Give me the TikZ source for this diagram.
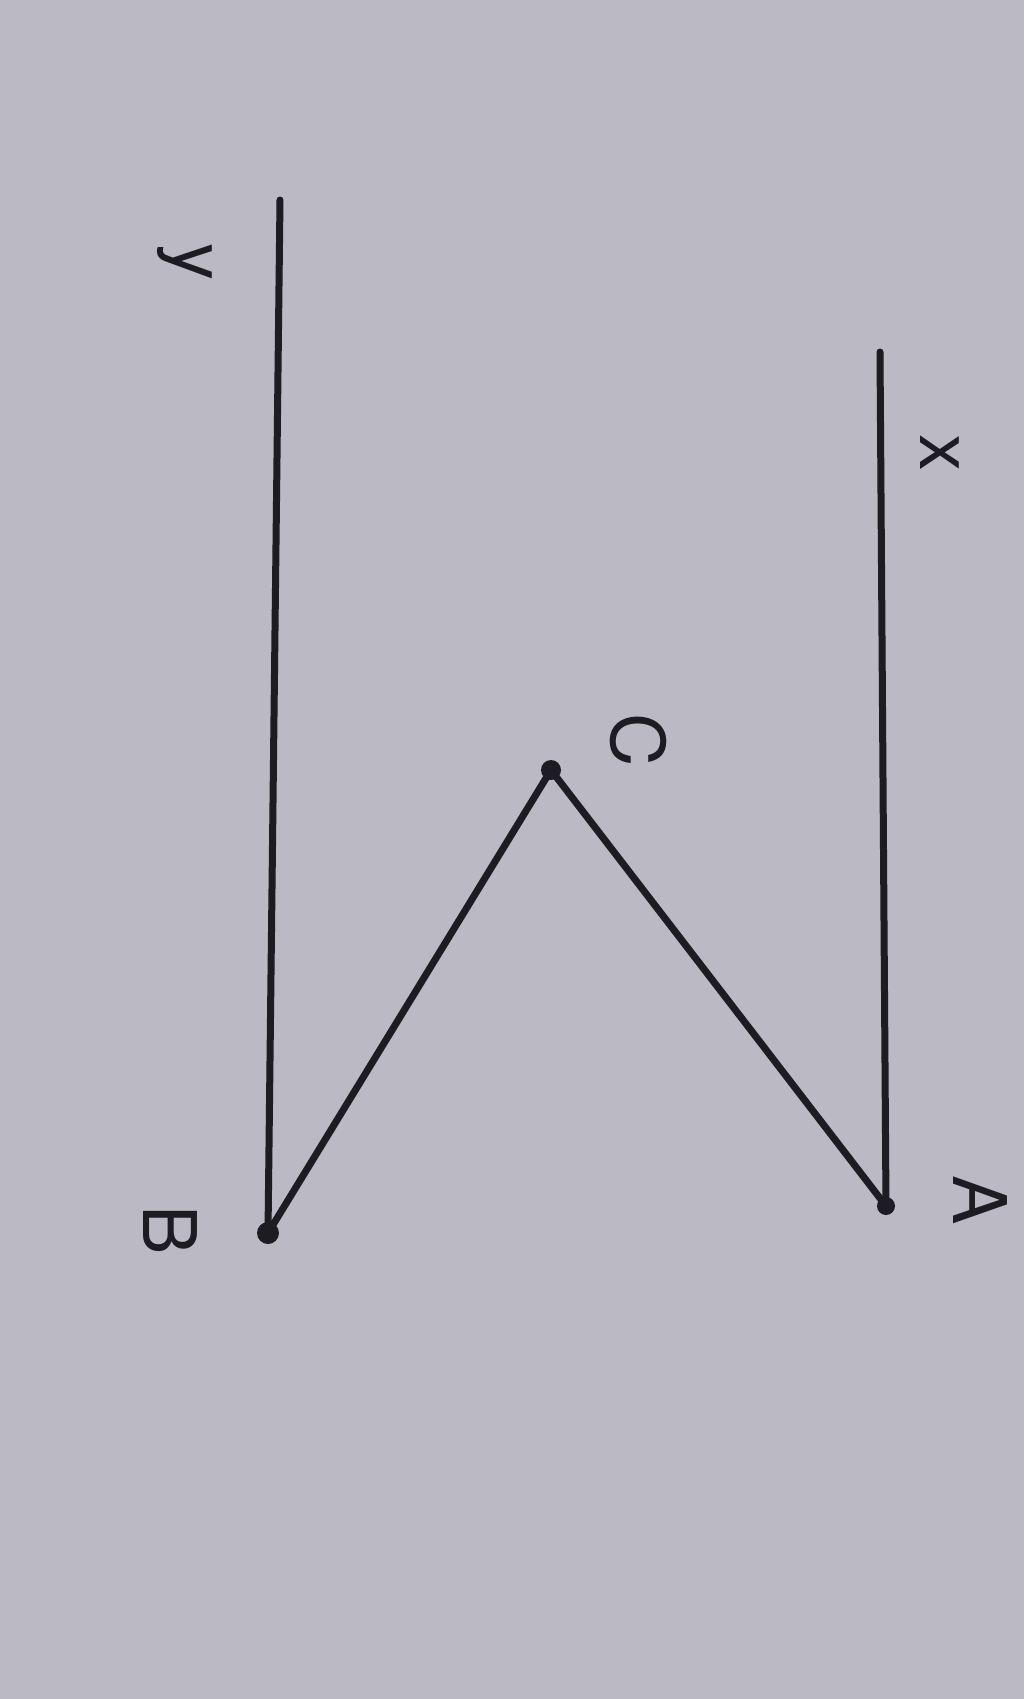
\documentclass[tikz,border=0pt]{standalone}
\usepackage{fontspec}
\setmainfont{TeX Gyre Heros}

\definecolor{paper}{RGB}{186,185,196}
\definecolor{ink}{RGB}{28,28,34}

\tikzset{every picture/.style={line width=3.5pt}}
\tikzset{
  segline/.style={draw=ink,line width=3.5pt,line cap=round},
  ptlabel/.style={anchor=center,inner sep=0.75pt,rotate=-90,text=ink,font=\fontsize{37}{40}\selectfont},
  ptdot/.style={fill=ink}
}

\begin{document}
\begin{tikzpicture}[x=0.5pt,y=0.5pt,yscale=-1,xscale=1]
%set diagram left start at 0, and has height of 1699
\fill [paper] (0,0) rectangle (1024,1699);
\useasboundingbox (0,0) rectangle (1024,1699);

% Points
\coordinate (xtop) at (880,352);
\coordinate (A) at (886,1206);
\coordinate (ytop) at (280,200);
\coordinate (B) at (268,1233);
\coordinate (C) at (551,770);

%Straight Lines [x]
\draw [segline] (xtop) -- (A);
%Straight Lines [y]
\draw [segline] (ytop) -- (B);
%Straight Lines [A-C-B]
\draw [segline,line join=round] (A) -- (C) -- (B);

%Shape: Circle [dots]
\fill [ptdot] (A) circle (9);
\fill [ptdot] (B) circle (11);
\fill [ptdot] (C) circle (10);

% Text Node
\node [ptlabel] (lblx) at (940,453) {x};
% Text Node
\node [ptlabel] (lbly) at (185,262) {y};
% Text Node
\node [ptlabel] (lblA) at (980,1200) {A};
% Text Node
\node [ptlabel] (lblB) at (170,1230) {B};
% Text Node
\node [ptlabel] (lblC) at (638,740) {C};

\end{tikzpicture}
\end{document}
